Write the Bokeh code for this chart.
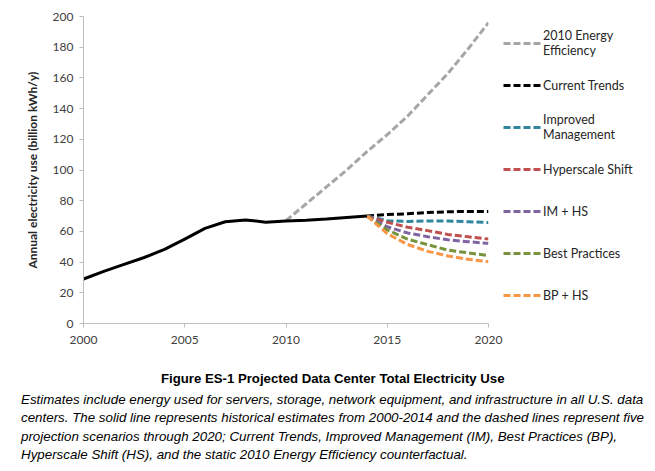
from bokeh.plotting import figure
from bokeh.models import Legend, LegendItem, Range1d, FixedTicker, Div
from bokeh.layouts import column
from bokeh.embed import file_html
from bokeh.resources import INLINE

# ---- data ----
hist_years = list(range(2000, 2015))
hist_vals = [29, 34, 38.5, 43, 48.3, 55, 62, 66.3, 67.5, 66, 66.7, 67.3, 68, 69, 70]

ee_years = list(range(2010, 2021))
ee_vals = [67, 78, 89, 100, 112, 123, 135, 149, 163, 179, 196]

proj_years = list(range(2014, 2021))
current_trends = [70, 71, 71.5, 72.3, 72.8, 73, 73]
improved_mgmt = [70, 67, 66.5, 66.8, 66.8, 66.3, 65.8]
hyperscale = [70, 66, 62.7, 60.5, 58, 56.5, 55]
im_hs = [70, 63, 59, 56.5, 54.5, 53.3, 52.2]
best_practices = [70, 61, 55, 51.3, 47.8, 46, 44.3]
bp_hs = [70, 58.5, 51.5, 47, 44, 41.8, 40.3]

series_names = ["2010 Energy\nEfficiency", "Current Trends", "Improved\nManagement",
                "Hyperscale Shift", "IM + HS", "Best Practices", "BP + HS"]
series_colors = ["#a6a6a6", "#000000", "#31859c", "#c0504d", "#8064a2", "#77933c", "#f79646"]

x_ticks = [2000, 2005, 2010, 2015, 2020]
y_ticks = list(range(0, 201, 20))

title_text = "Figure ES-1 Projected Data Center Total Electricity Use"
caption_lines = [
    "Estimates include energy used for servers, storage, network equipment, and infrastructure in all U.S. data",
    "centers. The solid line represents historical estimates from 2000-2014 and the dashed lines represent five",
    "projection scenarios through 2020; Current Trends, Improved Management (IM), Best Practices (BP),",
    "Hyperscale Shift (HS), and the static 2010 Energy Efficiency counterfactual.",
]

# ---- figure ----
p = figure(frame_width=405, frame_height=307, output_backend="svg", toolbar_location=None,
           x_range=Range1d(2000, 2020), y_range=Range1d(0, 200),
           min_border_left=83, min_border_right=159, min_border_top=16, min_border_bottom=29)
p.xgrid.visible = False
p.ygrid.visible = False
p.outline_line_color = None
p.background_fill_color = "white"

for ax in (p.xaxis[0], p.yaxis[0]):
    ax.axis_line_color = "#bfbfbf"
    ax.major_tick_line_color = "#bfbfbf"
    ax.major_tick_out = 4
    ax.major_tick_in = 0
    ax.minor_tick_line_color = None
    ax.major_label_text_font = "Lato"
    ax.major_label_text_font_size = "12px"
    ax.major_label_text_color = "#404040"

p.xaxis.ticker = FixedTicker(ticks=x_ticks)
p.yaxis.ticker = FixedTicker(ticks=y_ticks)
p.xaxis.major_label_standoff = 8
p.yaxis.major_label_standoff = 6
p.yaxis.axis_label = "Annual electricity use (billion kWh/y)"
p.yaxis.axis_label_text_font = "Lato"
p.yaxis.axis_label_text_font_size = "12px"
p.yaxis.axis_label_text_font_style = "bold"
p.yaxis.axis_label_text_color = "#262626"
p.yaxis.axis_label_standoff = 10

dash = "7 3"
proj_series = [current_trends, improved_mgmt, hyperscale, im_hs, best_practices, bp_hs]

renderers = []
r_ee = p.line(ee_years, ee_vals, line_color=series_colors[0], line_width=3, line_dash=dash)
renderers.append(r_ee)
for vals, col in zip(proj_series, series_colors[1:]):
    r = p.line(proj_years, vals, line_color=col, line_width=3, line_dash=dash)
    renderers.append(r)
p.line(hist_years, hist_vals, line_color="black", line_width=3)

legend = Legend(items=[LegendItem(label=n, renderers=[r]) for n, r in zip(series_names, renderers)],
                location=(15, 11), margin=0, padding=0, spacing=8,
                glyph_width=38, glyph_height=20, label_height=34, label_standoff=2,
                label_text_font="Lato", label_text_font_size="12.5px", label_text_color="#262626",
                border_line_color=None, background_fill_alpha=0)
p.add_layout(legend, "right")

caption_html = (
    '<div style="font-weight:bold;font-style:normal;font-size:13.2px;'
    'padding-left:140px;margin-bottom:2.5px;">' + title_text + '</div>'
    + "".join('<div>' + line + '</div>' for line in caption_lines)
)
cap = Div(text=caption_html, width=655, margin=0,
          styles={"font-family": "'Liberation Sans', Arial, sans-serif",
                  "font-size": "13.35px", "font-style": "italic", "line-height": "18.5px",
                  "color": "black", "padding-top": "17.75px", "padding-left": "21px",
                  "white-space": "nowrap"})

layout = column(p, cap, spacing=0)
open("out.html", "w").write(file_html(layout, INLINE))
